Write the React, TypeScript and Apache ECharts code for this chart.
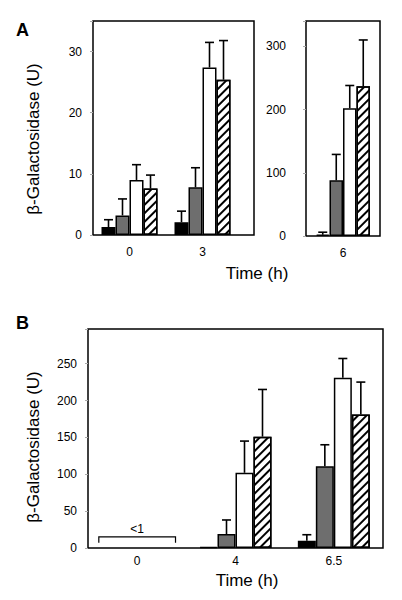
import React, { useEffect, useRef } from "react";
import * as echarts from "echarts";

// ---------- data ----------
const catsA = ["0", "3"];
const catsA6 = ["6"];
const catsB = ["0", "4", "6.5"];

// Panel A, times 0 and 3 h
const aBlack = [1.3, 2.1];
const aBlackErr = [2.5, 3.9];
const aGray = [3.2, 7.8];
const aGrayErr = [5.9, 11.0];
const aWhite = [9.0, 27.4];
const aWhiteErr = [11.5, 31.5];
const aHatch = [7.6, 25.4];
const aHatchErr = [9.8, 31.8];

// Panel A, time 6 h
const a6Black = [2];
const a6BlackErr = [6];
const a6Gray = [88];
const a6GrayErr = [129];
const a6White = [202];
const a6WhiteErr = [238];
const a6Hatch = [237];
const a6HatchErr = [310];

// Panel B, times 0 (<1), 4, 6.5 h
const bBlack = [null, 1.5, 10];
const bBlackErr = [null, null, 18];
const bGray = [null, 19, 111];
const bGrayErr = [null, 38, 140];
const bWhite = [null, 102, 231];
const bWhiteErr = [null, 145, 257];
const bHatch = [null, 151, 181];
const bHatchErr = [null, 215, 225];

// "<1" bracket for panel B, time 0
const bracketCat = 0;
const bracketTop = 15;
const bracketFoot = 7;
const bracketText = "<1";

const FONT = "'Liberation Sans', Arial, Helvetica, sans-serif";

const styles = [
  { color: "#000", borderColor: "#000", borderWidth: 1.5 },
  { color: "#6e6e6e", borderColor: "#000", borderWidth: 1.5 },
  { color: "#fff", borderColor: "#000", borderWidth: 1.5 },
  {
    color: "#fff",
    borderColor: "#000",
    borderWidth: 1.5,
    decal: {
      symbol: "rect",
      symbolSize: 1,
      dashArrayX: [1, 0],
      dashArrayY: [2, 4],
      rotation: -Math.PI / 4,
      color: "#000",
    },
  },
];

function barSeries(axis: number, values: (number | null)[][], bw: number) {
  return values.map((d, k) => ({
    type: "bar",
    xAxisIndex: axis,
    yAxisIndex: axis,
    data: d,
    barWidth: bw,
    barGap: "0%",
    itemStyle: styles[k],
    z: 2,
  }));
}

function errSeries(axis: number, values: (number | null)[][], errs: (number | null)[][], bw: number) {
  const data: number[][] = [];
  values.forEach((vals, k) => {
    vals.forEach((v, i) => {
      const e = errs[k][i];
      if (v != null && e != null) data.push([i, e, v, k]);
    });
  });
  return {
    type: "custom",
    xAxisIndex: axis,
    yAxisIndex: axis,
    data,
    z: 5,
    clip: false,
    renderItem: (params: any, api: any) => {
      const cat = api.value(0);
      const top = api.value(1);
      const val = api.value(2);
      const k = api.value(3);
      const c = api.coord([cat, val]);
      const t = api.coord([cat, top]);
      const x = c[0] + (k - 1.5) * bw;
      const cap = 4.5;
      return {
        type: "group",
        children: [
          { type: "line", shape: { x1: x, y1: c[1], x2: x, y2: t[1] }, style: { stroke: "#000", lineWidth: 1.6 } },
          { type: "line", shape: { x1: x - cap, y1: t[1], x2: x + cap, y2: t[1] }, style: { stroke: "#000", lineWidth: 1.6 } },
        ],
      };
    },
  };
}

const txt = (text: string, size: number, weight: string = "normal") => ({
  text,
  fontSize: size,
  fontFamily: FONT,
  fontWeight: weight,
  fill: "#000",
});

export default function App() {
  const ref = useRef<HTMLDivElement>(null);
  useEffect(() => {
    document.body.style.margin = "0";
    const chart = echarts.init(ref.current!, undefined, { renderer: "svg" });
    const axisLabel = (margin: number, interval?: number) => ({
      color: "#000",
      fontFamily: FONT,
      fontSize: 12,
      margin,
      formatter: interval ? (v: number) => (v % interval === 0 ? String(v) : "") : undefined,
    });
    const yTick = { show: true, length: 3, lineStyle: { color: "#aaa", width: 1 } };
    const frame = { show: true, borderColor: "#000", borderWidth: 1.5, backgroundColor: "transparent" };

    chart.setOption({
      animation: false,
      backgroundColor: "#fff",
      grid: [
        { left: 93, top: 21, width: 146, height: 214 },
        { left: 93, top: 21, width: 161, height: 214, ...frame },
        { left: 306, top: 21, width: 74, height: 215, ...frame },
        { left: 88, top: 329, width: 295, height: 219, ...frame },
      ],
      xAxis: [
        { gridIndex: 0, type: "category", data: catsA, axisLine: { show: false }, axisTick: { show: false }, axisLabel: axisLabel(11) },
        { gridIndex: 1, type: "value", show: false },
        { gridIndex: 2, type: "category", data: catsA6, axisLine: { show: false }, axisTick: { show: false }, axisLabel: axisLabel(11) },
        { gridIndex: 3, type: "category", data: catsB, axisLine: { show: false }, axisTick: { show: false }, axisLabel: axisLabel(7) },
      ],
      yAxis: [
        { gridIndex: 0, type: "value", min: 0, max: 35, interval: 10, axisLine: { show: false }, axisTick: yTick, splitLine: { show: false }, axisLabel: axisLabel(11, 10) },
        { gridIndex: 1, type: "value", show: false },
        { gridIndex: 2, type: "value", min: 0, max: 340, interval: 100, axisLine: { show: false }, axisTick: yTick, splitLine: { show: false }, axisLabel: axisLabel(20, 100) },
        { gridIndex: 3, type: "value", min: 0, max: 297, interval: 50, axisLine: { show: false }, axisTick: yTick, splitLine: { show: false }, axisLabel: axisLabel(11, 50) },
      ],
      series: [
        ...barSeries(0, [aBlack, aGray, aWhite, aHatch], 14),
        errSeries(0, [aBlack, aGray, aWhite, aHatch], [aBlackErr, aGrayErr, aWhiteErr, aHatchErr], 14),
        ...barSeries(2, [a6Black, a6Gray, a6White, a6Hatch], 13.5),
        errSeries(2, [a6Black, a6Gray, a6White, a6Hatch], [a6BlackErr, a6GrayErr, a6WhiteErr, a6HatchErr], 13.5),
        ...barSeries(3, [bBlack, bGray, bWhite, bHatch], 18),
        errSeries(3, [bBlack, bGray, bWhite, bHatch], [bBlackErr, bGrayErr, bWhiteErr, bHatchErr], 18),
        {
          type: "custom",
          xAxisIndex: 3,
          yAxisIndex: 3,
          data: [[bracketCat, bracketTop, bracketFoot]],
          z: 5,
          renderItem: (params: any, api: any) => {
            const top = api.coord([api.value(0), api.value(1)]);
            const foot = api.coord([api.value(0), api.value(2)]);
            const half = api.size([1, 0])[0] * 0.39;
            return {
              type: "group",
              children: [
                {
                  type: "polyline",
                  shape: {
                    points: [
                      [top[0] - half, foot[1]],
                      [top[0] - half, top[1]],
                      [top[0] + half, top[1]],
                      [top[0] + half, foot[1]],
                    ],
                  },
                  style: { stroke: "#000", lineWidth: 1.2, fill: null },
                },
                {
                  type: "text",
                  style: {
                    ...txt(bracketText, 12),
                    x: top[0],
                    y: top[1] - 2,
                    align: "center",
                    verticalAlign: "bottom",
                  },
                },
              ],
            };
          },
        },
      ],
      graphic: [
        { type: "text", left: 16, top: 21, style: txt("A", 18, "bold") },
        { type: "text", left: 16, top: 314, style: txt("B", 18, "bold") },
        {
          type: "text",
          x: 33,
          y: 139,
          rotation: Math.PI / 2,
          style: { ...txt("β-Galactosidase (U)", 17), align: "center", verticalAlign: "middle" },
        },
        {
          type: "text",
          x: 33,
          y: 447,
          rotation: Math.PI / 2,
          style: { ...txt("β-Galactosidase (U)", 17), align: "center", verticalAlign: "middle" },
        },
        { type: "text", x: 257, y: 273, style: { ...txt("Time (h)", 17), align: "center", verticalAlign: "middle" } },
        { type: "text", x: 247, y: 580, style: { ...txt("Time (h)", 17), align: "center", verticalAlign: "middle" } },
      ],
    });
    return () => chart.dispose();
  }, []);
  return <div ref={ref} style={{ width: 402, height: 600 }} />;
}
